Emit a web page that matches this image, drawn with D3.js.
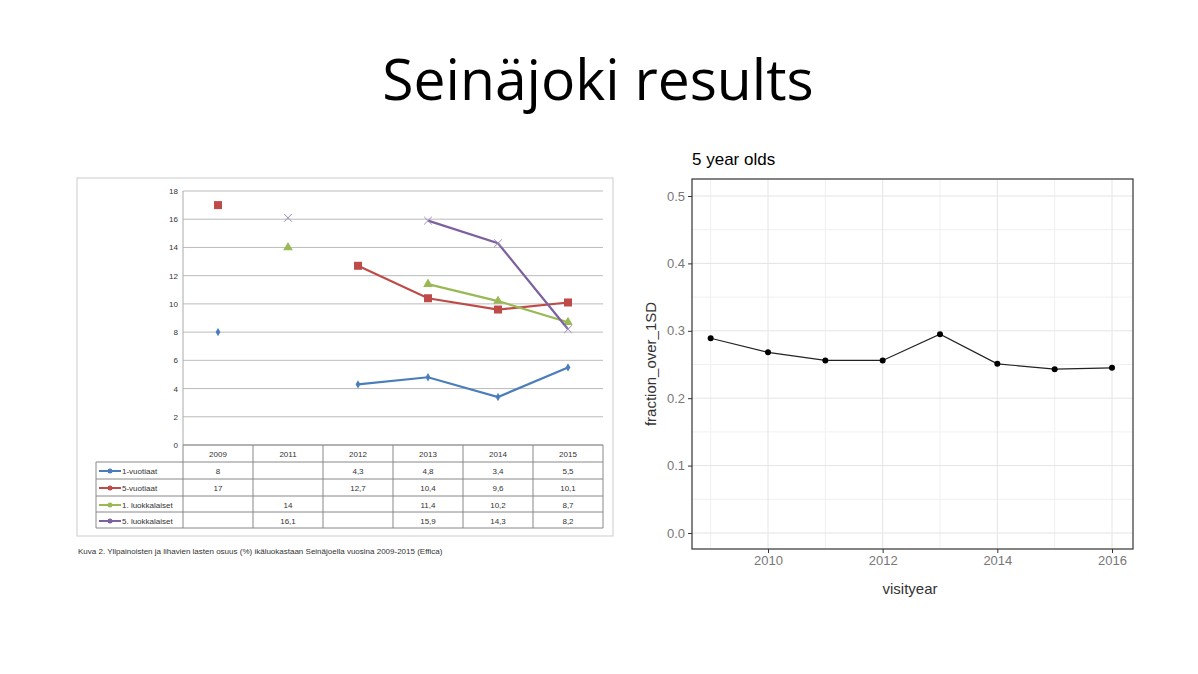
<!DOCTYPE html>
<html><head><meta charset="utf-8">
<script src="https://cdn.jsdelivr.net/npm/d3@7"></script>
<style>body{margin:0;background:#fff;font-family:"Liberation Sans",Arial,sans-serif}</style>
</head><body><div id="chart"></div>
<script>
// Left chart data (Effica)
const years = ['2009', '2011', '2012', '2013', '2014', '2015'];
const seriesNames = ['1-vuotiaat', '5-vuotiaat', '1. luokkalaiset', '5. luokkalaiset'];
const seriesColors = ['#4a7ebb', '#be4b48', '#98b954', '#7d60a0'];
const v1 = [8, null, 4.3, 4.8, 3.4, 5.5];
const v5 = [17, null, 12.7, 10.4, 9.6, 10.1];
const l1 = [null, 14, null, 11.4, 10.2, 8.7];
const l5 = [null, 16.1, null, 15.9, 14.3, 8.2];
const leftTicks = [0, 2, 4, 6, 8, 10, 12, 14, 16, 18];

// Right chart data
const visityear = [2009, 2010, 2011, 2012, 2013, 2014, 2015, 2016];
const fraction = [0.289, 0.268, 0.256, 0.256, 0.295, 0.251, 0.243, 0.245];
const rightYTicks = [0, 0.1, 0.2, 0.3, 0.4, 0.5];
const rightXTicks = [2010, 2012, 2014, 2016];

const svg = d3.select('#chart').append('svg').attr('width', 1198).attr('height', 674);

svg.append('text').attr('x', 598).attr('y', 100).attr('text-anchor', 'middle')
  .attr('font-family', 'Open Sans, sans-serif').attr('font-size', 57).text('Seinäjoki results');

// ---------- left chart ----------
svg.append('rect').attr('x', 77).attr('y', 178).attr('width', 536).attr('height', 358)
  .attr('fill', 'none').attr('stroke', '#ccc');

const x = d3.scaleBand().domain(years).range([183, 603]);
const y = d3.scaleLinear().domain([0, 18]).range([445, 191]);

const lg = svg.append('g').attr('font-size', 8).attr('fill', '#333');
lg.selectAll('.grid').data(leftTicks).enter().append('line')
  .attr('x1', 183).attr('x2', 603).attr('y1', d => y(d)).attr('y2', d => y(d))
  .attr('stroke', '#aaa').attr('stroke-width', 0.8);
lg.append('line').attr('x1', 183).attr('x2', 183).attr('y1', 191).attr('y2', 445).attr('stroke', '#aaa');
lg.selectAll('.yt').data(leftTicks).enter().append('text')
  .attr('x', 178).attr('y', d => y(d) + 3).attr('text-anchor', 'end').text(d => d);

const all = [v1, v5, l1, l5];
const cx = i => x(years[i]) + x.bandwidth() / 2;
all.forEach((vals, s) => {
  const pts = vals.map((v, i) => ({ i, v }));
  const line = d3.line().defined(d => d.v !== null).x(d => cx(d.i)).y(d => y(d.v));
  lg.append('path').datum(pts).attr('d', line).attr('fill', 'none')
    .attr('stroke', seriesColors[s]).attr('stroke-width', 2.2);
  pts.filter(d => d.v !== null).forEach(d => {
    const px = cx(d.i), py = y(d.v);
    if (s === 0) lg.append('path').attr('d', d3.symbol(d3.symbolDiamond, 20)()).attr('transform', `translate(${px},${py})`).attr('fill', seriesColors[s]);
    if (s === 1) lg.append('rect').attr('x', px - 4).attr('y', py - 4).attr('width', 8).attr('height', 8).attr('fill', seriesColors[s]);
    if (s === 2) lg.append('path').attr('d', d3.symbol(d3.symbolTriangle, 40)()).attr('transform', `translate(${px},${py})`).attr('fill', seriesColors[s]);
    if (s === 3) lg.append('path').attr('d', d3.symbol(d3.symbolX, 40)()).attr('transform', `translate(${px},${py})`).attr('stroke', '#9a8bc0').attr('fill', 'none');
  });
});

// data table
const rowY = [445, 462, 479, 496, 512, 528];
const tg = svg.append('g').attr('font-size', 8).attr('fill', '#333');
for (let r = 1; r < rowY.length; r++)
  tg.append('line').attr('x1', 96).attr('x2', 603).attr('y1', rowY[r]).attr('y2', rowY[r]).attr('stroke', '#888');
tg.append('line').attr('x1', 183).attr('x2', 603).attr('y1', 445).attr('y2', 445).attr('stroke', '#888');
tg.append('line').attr('x1', 96).attr('x2', 96).attr('y1', 462).attr('y2', 528).attr('stroke', '#888');
years.forEach(yr => tg.append('line').attr('x1', x(yr)).attr('x2', x(yr)).attr('y1', 445).attr('y2', 528).attr('stroke', '#888'));
tg.append('line').attr('x1', 603).attr('x2', 603).attr('y1', 445).attr('y2', 528).attr('stroke', '#888');
years.forEach((yr, i) => tg.append('text').attr('x', cx(i)).attr('y', 457).attr('text-anchor', 'middle').text(yr));
all.forEach((vals, s) => {
  const ty = rowY[s + 1] + 12;
  tg.append('line').attr('x1', 99).attr('x2', 121).attr('y1', ty - 3).attr('y2', ty - 3).attr('stroke', seriesColors[s]).attr('stroke-width', 2);
  tg.append('circle').attr('cx', 110).attr('cy', ty - 3).attr('r', 2.5).attr('fill', seriesColors[s]);
  tg.append('text').attr('x', 122).attr('y', ty).text(seriesNames[s]);
  vals.forEach((v, i) => {
    if (v !== null) tg.append('text').attr('x', cx(i)).attr('y', ty).attr('text-anchor', 'middle').text(String(v).replace('.', ','));
  });
});
svg.append('text').attr('x', 78).attr('y', 554).attr('font-size', 8).attr('fill', '#333')
  .text('Kuva 2. Ylipainoisten ja lihavien lasten osuus (%) ikäluokastaan Seinäjoella vuosina 2009-2015 (Effica)');

// ---------- right chart ----------
const rx = d3.scaleLinear().domain([2010, 2016]).range([768, 1112]);
const ry = d3.scaleLinear().domain([0, 0.5]).range([533, 196]);
const rg = svg.append('g');
const minorY = [0.05, 0.15, 0.25, 0.35, 0.45];
rg.selectAll('.mg').data(minorY).enter().append('line')
  .attr('x1', 692).attr('x2', 1133).attr('y1', d => ry(d)).attr('y2', d => ry(d)).attr('stroke', '#f0f0f0');
rg.selectAll('.mx').data([2009, 2011, 2013, 2015]).enter().append('line')
  .attr('y1', 179).attr('y2', 549).attr('x1', d => rx(d)).attr('x2', d => rx(d)).attr('stroke', '#f0f0f0');
rg.selectAll('.gy').data(rightYTicks).enter().append('line')
  .attr('x1', 692).attr('x2', 1133).attr('y1', d => ry(d)).attr('y2', d => ry(d)).attr('stroke', '#e4e4e4');
rg.selectAll('.gx').data(rightXTicks).enter().append('line')
  .attr('y1', 179).attr('y2', 549).attr('x1', d => rx(d)).attr('x2', d => rx(d)).attr('stroke', '#e4e4e4');
rg.append('rect').attr('x', 692).attr('y', 179).attr('width', 441).attr('height', 370)
  .attr('fill', 'none').attr('stroke', '#333').attr('stroke-width', 1.2);

rg.append('g').attr('transform', 'translate(692,0)')
  .call(d3.axisLeft(ry).tickValues(rightYTicks).tickFormat(d3.format('.1f')).tickSize(4))
  .call(g => g.select('.domain').remove())
  .call(g => g.selectAll('text').attr('fill', '#777').attr('font-size', 13).attr('font-family', 'Liberation Sans'))
  .call(g => g.selectAll('line').attr('stroke', '#333'));
rg.append('g').attr('transform', 'translate(0,549)')
  .call(d3.axisBottom(rx).tickValues(rightXTicks).tickFormat(d3.format('d')).tickSize(4))
  .call(g => g.select('.domain').remove())
  .call(g => g.selectAll('text').attr('fill', '#777').attr('font-size', 13).attr('font-family', 'Liberation Sans'))
  .call(g => g.selectAll('line').attr('stroke', '#333'));

const pts = visityear.map((yr, i) => [yr, fraction[i]]);
rg.append('path').datum(pts).attr('fill', 'none').attr('stroke', '#222').attr('stroke-width', 1.2)
  .attr('d', d3.line().x(d => rx(d[0])).y(d => ry(d[1])));
rg.selectAll('.pt').data(pts).enter().append('circle')
  .attr('cx', d => rx(d[0])).attr('cy', d => ry(d[1])).attr('r', 3).attr('fill', '#000');

svg.append('text').attr('x', 692).attr('y', 165).attr('font-size', 17).text('5 year olds');
svg.append('text').attr('x', 910).attr('y', 594).attr('text-anchor', 'middle').attr('font-size', 15).attr('fill', '#333').text('visityear');
svg.append('text').attr('transform', 'translate(656,364) rotate(-90)').attr('text-anchor', 'middle')
  .attr('font-size', 15).attr('fill', '#333').text('fraction_over_1SD');
</script></body></html>
